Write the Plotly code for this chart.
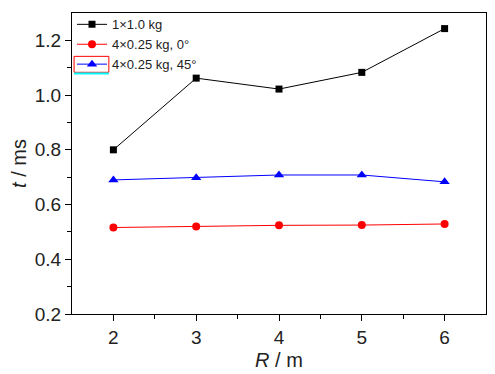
import plotly.graph_objects as go

R = [2, 3, 4, 5, 6]
t_1x10 = [0.80, 1.062, 1.022, 1.083, 1.243]
t_4x025_0 = [0.516, 0.520, 0.524, 0.525, 0.529]
t_4x025_45 = [0.690, 0.698, 0.708, 0.708, 0.683]
names = ["1×1.0 kg", "4×0.25 kg, 0°", "4×0.25 kg, 45°"]

fig = go.Figure()
fig.add_trace(go.Scatter(x=R, y=t_1x10, name=names[0], mode="lines+markers",
                         line=dict(color="black", width=1),
                         marker=dict(symbol="square", size=7, color="black")))
fig.add_trace(go.Scatter(x=R, y=t_4x025_0, name=names[1], mode="lines+markers",
                         line=dict(color="red", width=1),
                         marker=dict(symbol="circle", size=8, color="red")))
fig.add_trace(go.Scatter(x=R, y=t_4x025_45, name=names[2], mode="lines+markers",
                         line=dict(color="blue", width=1),
                         marker=dict(symbol="triangle-up", size=9, color="blue")))

font = "Liberation Sans, Arial, sans-serif"
fig.update_layout(
    width=487, height=366,
    margin=dict(l=64, r=9, t=1, b=60),
    plot_bgcolor="white", paper_bgcolor="white",
    font=dict(family=font, size=18, color="#222"),
    showlegend=True,
    legend=dict(x=0.0, y=1.012, xanchor="left", yanchor="top",
                font=dict(size=13, color="#222"), bgcolor="rgba(255,255,255,0)",
                borderwidth=0, tracegroupgap=0, itemwidth=30),
    xaxis=dict(range=[1.5, 6.5], tickvals=[2, 3, 4, 5, 6], ticks="outside",
               ticklen=6, tickwidth=1, tickcolor="black", automargin=False,
               showline=True, linecolor="black", linewidth=1, mirror=True,
               showgrid=False, zeroline=False,
               minor=dict(tickvals=[2.5, 3.5, 4.5, 5.5], ticks="outside", ticklen=4, tickcolor="black"),
               title=dict(text="<i>R</i> / m", font=dict(size=20), standoff=6),
               tickfont=dict(size=19)),
    yaxis=dict(range=[0.2, 1.3], tickvals=[0.2, 0.4, 0.6, 0.8, 1.0, 1.2],
               ticktext=["0.2", "0.4", "0.6", "0.8", "1.0", "1.2"],
               ticks="outside", ticklen=6, tickwidth=1, tickcolor="black", automargin=False,
               showline=True, linecolor="black", linewidth=1, mirror=True,
               showgrid=False, zeroline=False,
               minor=dict(tickvals=[0.3, 0.5, 0.7, 0.9, 1.1], ticks="outside", ticklen=4, tickcolor="black"),
               title=dict(text="<i>t</i> / ms", font=dict(size=20), standoff=8),
               tickfont=dict(size=19)),
    shapes=[
        dict(type="rect", xref="paper", yref="paper", x0=0.005, x1=0.089, y0=0.803, y1=0.856,
             line=dict(color="red", width=1)),
        dict(type="line", xref="paper", yref="paper", x0=0.005, x1=0.089, y0=0.799, y1=0.799,
             line=dict(color="cyan", width=2)),
    ],
)
fig.write_html("out.html")
